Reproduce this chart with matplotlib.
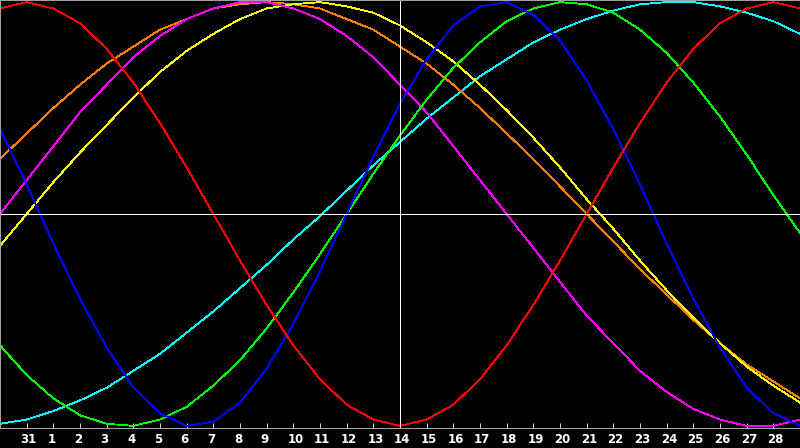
import matplotlib
matplotlib.use('Agg')
import matplotlib.pyplot as plt
import matplotlib.transforms as mtransforms

# Day positions (0 = day 30 of previous month) and tick labels
days = list(range(31))
tick_days = list(range(1, 30))
tick_labels = ['31'] + [str(d) for d in range(1, 29)]
today = 15  # day 14

# Cycle values in percent
physical = [40, 14, -14, -40, -63, -82, -94, -100, -98, -89, -73, -52, -27, 0, 27, 52,
            73, 89, 98, 100, 94, 82, 63, 40, 14, -14, -40, -63, -82, -94, -100]
emotional = [97, 100, 97, 90, 78, 62, 43, 22, 0, -22, -43, -62, -78, -90, -97, -100,
             -97, -90, -78, -62, -43, -22, 0, 22, 43, 62, 78, 90, 97, 100, 97]
intellectual = [-62, -76, -87, -95, -99, -100, -97, -91, -81, -69, -54, -37, -19, 0, 19, 37,
                54, 69, 81, 91, 97, 100, 99, 95, 87, 76, 62, 46, 28, 9, -9]
intuitive = [0, 16, 32, 48, 61, 74, 84, 92, 97, 100, 100, 97, 92, 84, 74, 61,
             48, 32, 16, 0, -16, -32, -48, -61, -74, -84, -92, -97, -100, -100, -97]
aesthetic = [-15, 0, 15, 29, 42, 55, 67, 77, 85, 92, 97, 99, 100, 98, 95, 89,
             81, 72, 61, 49, 36, 22, 7, -7, -22, -36, -49, -61, -72, -81, -89]
awareness = [26, 38, 50, 61, 71, 79, 87, 92, 97, 99, 100, 99, 97, 92, 87, 79,
             71, 61, 50, 38, 26, 13, 0, -13, -26, -38, -50, -61, -71, -79, -87]
spiritual = [-99, -97, -93, -88, -82, -74, -66, -56, -46, -35, -24, -12, -1, 11, 23, 34,
             45, 55, 65, 73, 81, 87, 92, 96, 99, 100, 100, 98, 95, 91, 85]

fig = plt.figure(figsize=(8, 4.48), dpi=100, facecolor='black')
ax = fig.add_axes([0, 20 / 448, 1, 428 / 448], facecolor='black')

series = [
    (spiritual, '#00ffff'),
    (awareness, '#ff8000'),
    (aesthetic, '#ffff00'),
    (intuitive, '#ff00ff'),
    (intellectual, '#00ff00'),
    (physical, '#0000ff'),
    (emotional, '#ff0000'),
]
for vals, col in series:
    ax.plot(days, vals, color=col, lw=0.6, antialiased=False)

# crosshair
ax.axhline(0, color='white', lw=0.6, antialiased=False)
ax.axvline(today, color='white', lw=0.6, antialiased=False)

ax.set_xlim(0, 30)
ax.set_ylim(-101, 101)
ax.set_yticks([])
ax.set_xticks(tick_days)
ax.set_xticklabels([])
ax.tick_params(axis='x', direction='in', length=3.6, width=0.6, color='white')

for side in ['left', 'top', 'bottom']:
    ax.spines[side].set_color('#a0a0a0')
    ax.spines[side].set_linewidth(0.75)
ax.spines['right'].set_visible(False)

# labels left-aligned just before each tick
trans = mtransforms.blended_transform_factory(ax.transData, ax.transAxes)
off = mtransforms.offset_copy(trans, fig=fig, x=-6, y=-15, units='dots')
for d, lab in zip(tick_days, tick_labels):
    ax.text(d, 0, lab, transform=off, ha='left', va='baseline', color='white',
            fontsize=8.5, fontweight='bold', clip_on=False)

fig.savefig('out.png', dpi=100, facecolor='black')
